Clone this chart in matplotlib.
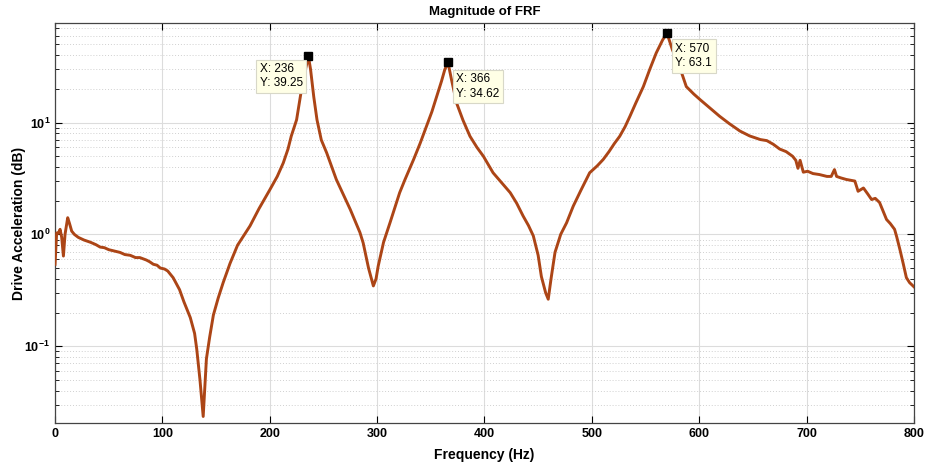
import math
import matplotlib
matplotlib.use("Agg")
import matplotlib.pyplot as plt
from matplotlib.ticker import FixedLocator, FuncFormatter, LogLocator, NullFormatter

plt.rcParams['font.family'] = ['Liberation Sans', 'DejaVu Sans']
plt.rcParams['mathtext.fontset'] = 'custom'
plt.rcParams['mathtext.rm'] = 'Liberation Sans'
plt.rcParams['mathtext.bf'] = 'Liberation Sans:bold'

freq = [0, 1.5, 3, 4.7, 6.2, 7.8, 9.3, 11.8, 13.5, 15.5, 18, 21.7, 27, 33, 38, 42, 46, 50, 55, 60.5,
        65, 70, 75, 79, 85, 88, 91.6, 95, 98, 102, 105, 110, 116, 120, 126, 130, 132, 135, 138,
        141, 144, 147.5, 152, 156.6, 163, 170, 181.6, 190, 200, 207, 212.6, 217, 220, 225, 230,
        233, 236, 238, 241, 244, 248, 253, 262, 275, 284, 287, 292, 296.5, 299, 301, 306, 312,
        321, 326, 334, 340, 346, 351, 355.5, 360, 363, 366, 369, 374, 380, 386.5, 393, 399, 408,
        416, 424, 430, 436, 441, 445.5, 450, 453, 457, 459.4, 462, 465.7, 471, 476.5, 482.7,
        490, 498, 505, 510.6, 516, 521, 526, 531, 535.5, 541, 548, 554, 560, 566, 570, 575, 582,
        588, 595, 601, 610, 619, 628, 638, 647, 657, 663, 669, 675, 681, 687, 690, 692, 694,
        697, 701, 706, 712, 719, 723, 726, 728, 732, 737, 745, 748, 753, 757, 760.6, 764, 768,
        774.5, 778, 782, 784, 787, 790, 793, 796, 800]
mag = [0.54, 1.03, 1.02, 1.11, 0.94, 0.64, 1.0, 1.41, 1.25, 1.07, 1.0, 0.94, 0.89, 0.85, 0.81, 0.77,
       0.76, 0.73, 0.71, 0.69, 0.66, 0.65, 0.62, 0.62, 0.59, 0.57, 0.54, 0.53, 0.5, 0.49, 0.47,
       0.41, 0.32, 0.25, 0.18, 0.13, 0.094, 0.05, 0.0235, 0.077, 0.12, 0.19, 0.27, 0.37, 0.55,
       0.8, 1.19, 1.7, 2.5, 3.3, 4.36, 5.8, 7.55, 10.6, 21, 29, 39.25, 30, 17, 10.6, 7.0, 5.37,
       3.1, 1.67, 1.04, 0.84, 0.5, 0.346, 0.4, 0.52, 0.85, 1.27, 2.36, 3.1, 4.68, 6.5, 9.27,
       12.5, 17.2, 23.5, 29.7, 34.62, 25, 15, 10.5, 7.55, 6.0, 5.0, 3.56, 2.9, 2.36, 1.9, 1.46,
       1.2, 0.97, 0.65, 0.42, 0.3, 0.263, 0.4, 0.69, 1.0, 1.27, 1.79, 2.5, 3.56, 4.1, 4.68,
       5.5, 6.5, 7.55, 9.2, 11.4, 15, 21, 30, 42, 55, 63.1, 45, 31, 21, 18, 16, 13.5, 11.4, 9.8,
       8.4, 7.6, 7.05, 6.9, 6.4, 5.8, 5.5, 5.0, 4.6, 3.9, 4.6, 3.6, 3.67, 3.5, 3.43, 3.3, 3.3,
       3.8, 3.3, 3.2, 3.1, 3.0, 2.43, 2.6, 2.3, 2.05, 2.1, 1.93, 1.36, 1.25, 1.11, 0.95, 0.73,
       0.55, 0.41, 0.37, 0.34]

peak_f = [236, 366, 570]
peak_mag = [39.25, 34.62, 63.1]
x_ticks = [0, 100, 200, 300, 400, 500, 600, 700, 800]

line_color = '#AC4516'

fig = plt.figure(figsize=(9.25, 4.67), dpi=100)
ax = fig.add_axes([0.0595, 0.094, 0.9285, 0.857])
ax.plot(freq, mag, color=line_color, lw=2.1, zorder=3)
ax.set_yscale('log')
ax.set_xlim(0, 800)
ax.set_ylim(0.0205, 78)

ax.xaxis.set_major_locator(FixedLocator(x_ticks))
ax.yaxis.set_major_locator(LogLocator(base=10, numticks=10))
ax.yaxis.set_minor_locator(LogLocator(base=10, subs=range(2, 10), numticks=20))
ax.yaxis.set_minor_formatter(NullFormatter())
ax.yaxis.set_major_formatter(FuncFormatter(lambda v, p: r'$\mathbf{10^{%d}}$' % round(math.log10(v))))

ax.grid(True, which='major', color='#dcdcdc', lw=0.8, ls='-', zorder=0)
ax.grid(True, which='minor', axis='y', color='#d0d0d0', lw=0.7, ls=(0, (1, 2)), zorder=0)
ax.tick_params(which='both', direction='in', top=True, right=True, labelsize=9)
ax.tick_params(which='major', length=5, width=0.8)
ax.tick_params(which='minor', length=3, width=0.6)
for lab in ax.get_xticklabels():
    lab.set_fontweight('bold')
for s in ax.spines.values():
    s.set_color('#444444')
    s.set_linewidth(0.9)

ax.set_title('Magnitude of FRF', fontsize=9.5, fontweight='bold', pad=6)
ax.set_xlabel('Frequency (Hz)', fontsize=10, fontweight='bold', labelpad=6)
ax.set_ylabel('Drive Acceleration (dB)', fontsize=10, fontweight='bold', labelpad=-1)

ax.plot(peak_f, peak_mag, 's', color='black', ms=6, zorder=5)
offsets = [(-35, -5), (6, -8), (6, -7)]
for f, m, off in zip(peak_f, peak_mag, offsets):
    ax.annotate('X: %g\nY: %g' % (f, m), xy=(f, m), xytext=off, textcoords='offset points',
                ha='left', va='top', fontsize=8.5, linespacing=1.25, zorder=6,
                bbox=dict(boxstyle='square,pad=0.3', fc='#ffffe6', ec='#d8d8c8', lw=0.8))

fig.savefig('out.png', dpi=100, facecolor='white')
